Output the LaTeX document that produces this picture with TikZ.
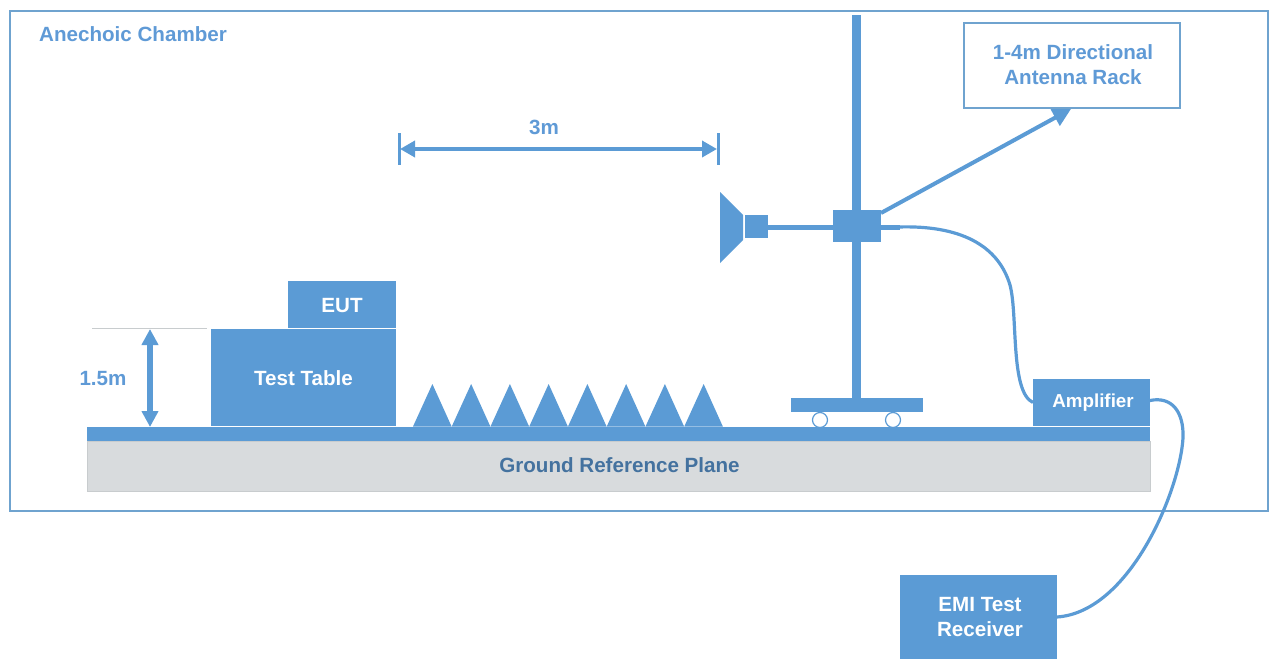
\documentclass[tikz,border=0pt]{standalone}
\usepackage{fontspec}
\setmainfont{Liberation Sans}
\usetikzlibrary{arrows.meta}
\definecolor{mainblue}{HTML}{5B9BD5}
\definecolor{framblue}{HTML}{6FA3CF}
\definecolor{textblue}{HTML}{5F9AD6}
\definecolor{darktext}{HTML}{44729F}
\definecolor{planegray}{HTML}{D8DBDD}
\definecolor{edgegray}{HTML}{C8CCCE}
\tikzset{
  x=1pt,y=-1pt,
  lab/.style={font=\fontsize{20.6}{25}\selectfont\bfseries,align=center,inner sep=0pt},
  whitelab/.style={lab,text=white},
  bluelab/.style={lab,text=textblue},
  solidbox/.style={fill=mainblue,draw=none,inner sep=0pt,outer sep=0pt,anchor=north west},
  frameline/.style={draw=framblue,line width=1.2pt},
  cable/.style={draw=mainblue,line width=3.2pt},
  wheel/.style={circle,draw=mainblue,fill=white,line width=1.2pt,minimum size=15pt,inner sep=0pt},
}
\newcommand{\pxbox}[6][]{\node[solidbox,minimum width=#4pt,minimum height=#5pt,#1] (#2) at #3 {#6};}
\begin{document}
\begin{tikzpicture}
\useasboundingbox (0,0) rectangle (1270,667);
% chamber
\draw[frameline] (10,11) rectangle (1268,511);
\node[bluelab,anchor=west] (chamberlabel) at (39,34.5) {Anechoic Chamber};
% ground
\node[solidbox,fill=planegray,draw=edgegray,line width=1pt,minimum width=1063pt,minimum height=50pt] (grp) at (87,441) {};
\node[lab,text=darktext] (grplabel) at (619.5,465) {Ground Reference Plane};
\pxbox{plane}{(87,427)}{1063}{14}{}
% table and EUT
\pxbox{tbl}{(211,329)}{185}{97}{}
\node[whitelab] (tbllabel) at (303.5,378) {Test Table};
\pxbox{eut}{(288,281)}{108}{47}{}
\node[whitelab] (eutlabel) at (342,306) {EUT};
% 1.5 m
\coordinate (hl) at (92,328);
\coordinate (hr) at (207,328);
\draw[edgegray,line width=1pt] (hl) -- (hr);
\coordinate (ht) at (150,329);
\coordinate (hb) at (150,427);
\draw[draw=mainblue,line width=6pt,{Triangle[length=16pt,width=16pt]}-{Triangle[length=16pt,width=16pt]}] (ht) -- (hb);
\node[bluelab] (hlabel) at (103,379) {1.5m};
% absorbers
\foreach \i in {0,...,7}{
  \fill[mainblue] ({413+38.75*\i},426.5) -- ({432.4+38.75*\i},384) -- ({451.6+38.75*\i},426.5) -- cycle;
}
% 3 m
\coordinate (dl) at (400,149);
\coordinate (dr) at (717,149);
\draw[mainblue,line width=3pt] (399,133) -- (399,165);
\draw[mainblue,line width=3pt] (718,133) -- (718,165);
\draw[draw=mainblue,line width=3.6pt,{Triangle[length=15pt,width=16pt]}-{Triangle[length=15pt,width=16pt]}] (dl) -- (dr);
\node[bluelab] (dlabel) at (544,127) {3m};
% mast
\fill[mainblue] (852,15) rectangle (861,399);
\pxbox{trolley}{(791,398)}{132}{14}{}
\node[wheel] (w1) at (820,420) {};
\node[wheel] (w2) at (893,420) {};
% arm and antenna
\fill[mainblue] (768,225) rectangle (900,229.5);
\pxbox{carriage}{(833,210)}{48}{32}{}
\fill[mainblue] (720,192) -- (743,215) -- (743,240) -- (720,263) -- cycle;
\pxbox{feed}{(745,215)}{23}{23}{}
% rack
\node[draw=framblue,line width=1.2pt,fill=white,minimum width=216pt,minimum height=85pt,inner sep=0pt,outer sep=0pt,anchor=north west] (rack) at (964,23) {};
\node[bluelab] (racklabel) at (1073,65) {1-4m Directional\\Antenna Rack};
\coordinate (racktip) at (1071,109);
\draw[draw=mainblue,line width=4pt,-{Triangle[length=18pt,width=18pt]}] (carriage.north east) ++(0,3) -- (racktip);
% amplifier and receiver
\pxbox{amp}{(1033,379)}{117}{47}{}
\node[whitelab,font=\fontsize{18.8}{25}\selectfont\bfseries] (amplabel) at (1093,403) {Amplifier};
\pxbox{emi}{(900,575)}{157}{84}{}
\node[whitelab] (emilabel) at (980,617) {EMI Test\\Receiver};
% cables
\coordinate (cablestart) at (898,227);
\draw[cable] (cablestart) .. controls (960,225) and (998,245) .. (1010,285)
  .. controls (1018,315) and (1010,392) .. (amp.west);
\draw[cable] (amp.east) ++(0,-2) .. controls (1172,396) and (1184,412) .. (1183,438)
  .. controls (1180,490) and (1130,612) .. (1057,617);
\end{tikzpicture}
\end{document}
